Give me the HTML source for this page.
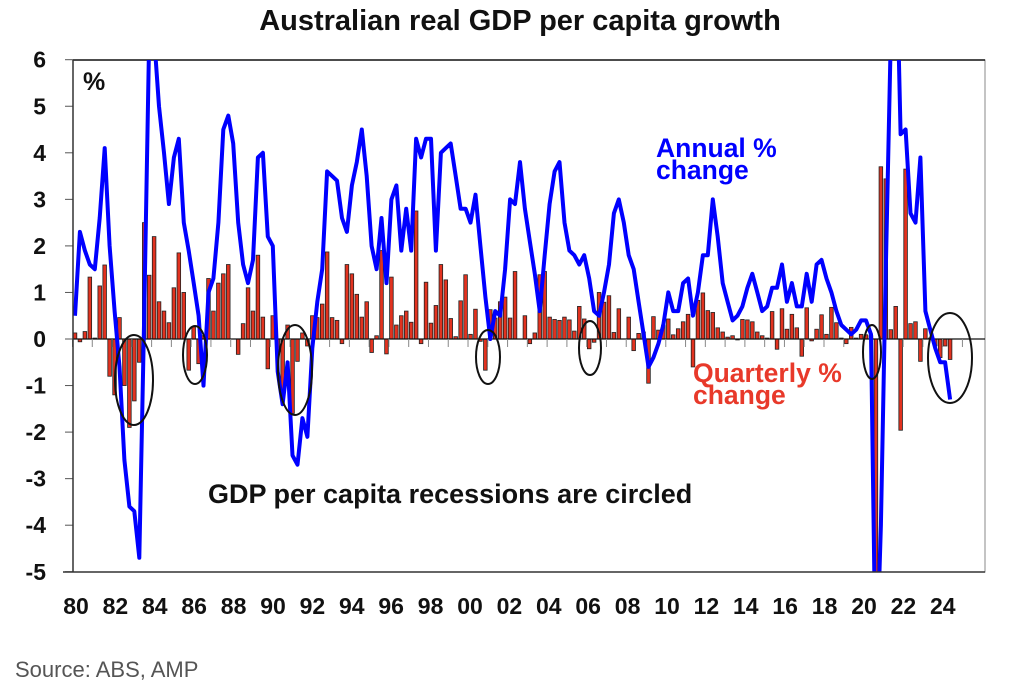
<!DOCTYPE html>
<html><head><meta charset="utf-8"><style>
body{margin:0;background:#fff;}
svg{display:block;font-family:"Liberation Sans",Arial,sans-serif;}
</style></head><body>
<svg id="chart" width="1026" height="696" viewBox="0 0 1026 696"></svg>
<script>
const yTicks=[6,5,4,3,2,1,0,-1,-2,-3,-4,-5];
const yearLabels=["80","82","84","86","88","90","92","94","96","98","00","02","04","06","08","10","12","14","16","18","20","22","24"];
const annual=[0.5,2.3,1.9,1.6, 1.5,2.6,4.1,2.0, 0.6,-0.6,-2.6,-3.6, -3.7,-4.7,0.5,6.5, 6.5,5.0,4.0,2.9,
3.9,4.3,2.5,1.9, 1.2,0.5,-1.0,1.0, 1.3,2.5,4.5,4.8, 4.2,2.5,1.6,1.2, 1.7,3.9,4.0,2.2,
2.0,-0.7,-1.4,-0.5, -2.5,-2.7,-1.7,-2.1, -0.2,0.8,1.5,3.6, 3.5,3.4,2.6,2.3, 3.3,3.8,4.5,3.5,
2.0,1.5,2.6,1.2, 3.0,3.3,1.9,2.8, 1.9,4.3,3.9,4.3, 4.3,1.9,4.0,4.1, 4.2,3.5,2.8,2.8,
2.5,3.1,2.0,0.9, 0.0,0.6,0.5,1.5, 3.0,2.9,3.8,2.8, 2.1,1.4,0.6,1.8, 2.9,3.6,3.8,2.5,
1.9,1.8,1.6,1.8, 1.3,0.6,0.5,1.0, 1.6,2.7,3.0,2.5, 1.8,1.5,0.8,0.1, -0.6,-0.4,-0.1,0.3,
1.0,0.6,0.6,1.2, 1.3,0.5,1.0,1.8, 1.8,3.0,2.2,1.2, 0.8,0.4,0.5,0.7, 1.1,1.4,1.0,0.6,
0.7,1.1,1.1,1.6, 0.8,1.2,0.7,0.7, 1.4,0.8,1.6,1.7, 1.3,1.0,0.6,0.3, 0.2,0.1,0.2,0.4,
0.4,0.1,-7.5,-4.0,1.5,6.5,9.0,4.4,4.5,2.7,2.5,3.9,0.6,0.2,-0.2,-0.5,-0.5,-1.3];
const quarterly=[0.13,-0.06,0.16,1.33,0.02,1.14,1.59,-0.8,-1.2,0.46,-1.0,-1.9,-1.33,-0.5,2.5,1.37,2.2,0.8,0.6,0.35,
1.1,1.85,1.0,-0.67,0.26,-0.53,0.07,1.3,0.6,1.2,1.4,1.6,0,-0.33,0.33,1.1,0.6,1.8,0.47,-0.64,
0.5,-0.26,-1.33,0.3,-1.6,-0.48,0.13,-0.15,0.5,0.46,0.75,1.87,0.46,0.4,-0.1,1.6,1.4,0.96,0.47,0.8,
-0.29,0.07,1.9,-0.32,1.33,0.3,0.5,0.6,0.36,2.75,-0.1,1.22,0.34,0.72,1.6,1.27,0.44,0.05,0.82,1.38,
0.1,0.64,-0.05,-0.67,0.63,0.45,0.8,0.9,0.45,1.45,0,0.5,-0.1,0.13,1.38,1.45,0.47,0.42,0.4,0.47,
0.41,0.17,0.7,0.43,-0.21,-0.07,1.0,0.79,0.93,0.14,0.65,0,0.47,-0.25,0.12,0.15,-0.95,0.48,0.19,0.3,
0.43,0.09,0.22,0.37,0.53,-0.6,0.83,0.99,0.61,0.57,0.24,0.15,0.04,0.07,-0.02,0.42,0.41,0.37,0.15,0.07,
0.02,0.59,-0.22,0.65,0.21,0.53,0.24,-0.37,0.67,-0.04,0.21,0.52,0.1,0.68,0.35,0.02,-0.1,0.25,0.02,0.1,
0.09,0.07,-7.5,3.7,3.44,0.2,0.7,-1.96,3.65,0.33,0.37,-0.48,0.22,0.02,-0.15,-0.4,-0.15,-0.44];

const svg=document.getElementById('chart');
const NS='http://www.w3.org/2000/svg';
const L=73,R=985,T=60,B=572,X0=75,DX=4.944;
const y=v=>339-v*46.55;
const x=i=>X0+i*DX;
function mk(tag,attrs,parent){const e=document.createElementNS(NS,tag);for(const k in attrs)e.setAttribute(k,attrs[k]);(parent||svg).appendChild(e);return e;}

const clip=mk('clipPath',{id:'pc'});mk('rect',{x:L,y:T,width:R-L,height:B-T},clip);

const frame=mk('rect',{x:L,y:T,width:R-L,height:B-T,fill:'none',stroke:'#888','stroke-width':1});


const topLine=mk('line',{x1:L,y1:T,x2:R,y2:T,stroke:'#111','stroke-width':1.5});



yTicks.forEach(v=>{
  const t=mk('line',{x1:L-8,y1:y(v),x2:L,y2:y(v),stroke:'#555','stroke-width':1});
  
  
  const lb=mk('text',{x:46,y:y(v)+8,'text-anchor':'end','font-size':23,'font-weight':'bold',fill:'#111'});
  lb.textContent=v;
  
  
});

const g=mk('g',{'clip-path':'url(#pc)'});


quarterly.forEach((v,i)=>{
  const y0=y(0),y1=y(v);
  const b=mk('rect',{x:x(i)-1.8,y:Math.min(y0,y1),width:3.6,height:Math.abs(y1-y0),fill:'#e2321f',stroke:'#222','stroke-width':0.8},g);
  
  
});

const zero=mk('line',{x1:L,y1:y(0),x2:R,y2:y(0),stroke:'#111','stroke-width':1.2});


for(let k=0;k<=45;k++){
  const tx=x(k*4)-2.5;
  const t=mk('line',{x1:tx,y1:y(0),x2:tx,y2:y(0)+8,stroke:'#888','stroke-width':1});
  
  
}

const pts=annual.map((v,i)=>x(i).toFixed(1)+','+y(v).toFixed(1)).join(' ');
const line=mk('polyline',{points:pts,fill:'none',stroke:'#0000ff','stroke-width':4,'stroke-linejoin':'round','clip-path':'url(#pc)'});



const ell=[[134,380,19,45],[195,355,12,29],[295,370,17,45],[488,357,12,27],[590,348,11,27],[872,352,9,27],[950,358,22,45]];
ell.forEach(e=>{
  const c=mk('ellipse',{cx:e[0],cy:e[1],rx:e[2],ry:e[3],fill:'none',stroke:'#111','stroke-width':2});
  
  
});

mk('line',{x1:L,y1:T,x2:L,y2:B,stroke:'#333','stroke-width':1.5});
const xb=mk('line',{x1:L-10,y1:B,x2:R,y2:B,stroke:'#333','stroke-width':1.5});



yearLabels.forEach((s,k)=>{
  const t=mk('text',{x:76+k*2*19.7,y:614,'text-anchor':'middle','font-size':23,'font-weight':'bold',fill:'#111'});
  t.textContent=s;
  
  
});
</script>
<div style="position:absolute;left:0;top:0;width:1026px;height:696px;pointer-events:none;font-family:'Liberation Sans',Arial,sans-serif;">
  <div style="position:absolute;left:0;width:1040px;top:5px;text-align:center;font-size:29px;font-weight:bold;color:#111;">Australian real GDP per capita growth</div>
  <div style="position:absolute;left:83px;top:68px;font-size:25px;font-weight:bold;color:#111;">%</div>
  <div style="position:absolute;left:656px;top:137px;font-size:26.5px;font-weight:bold;color:#0000ff;line-height:22px;">Annual %<br>change</div>
  <div style="position:absolute;left:693px;top:362px;font-size:26.5px;font-weight:bold;color:#e8392a;line-height:22px;">Quarterly %<br>change</div>
  <div style="position:absolute;left:208px;top:479px;font-size:27px;font-weight:bold;color:#111;">GDP per capita recessions are circled</div>
  <div style="position:absolute;left:15px;top:657px;font-size:22px;color:#555;">Source: ABS, AMP</div>
</div>
</body></html>
